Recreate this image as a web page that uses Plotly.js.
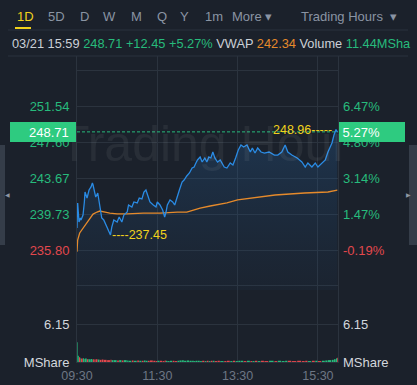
<!DOCTYPE html>
<html>
<head>
<meta charset="utf-8">
<script src="https://cdn.plot.ly/plotly-3.0.1.min.js"></script>
<style>html,body{margin:0;padding:0;background:#1b212b;overflow:hidden}#chart{width:417px;height:385px}</style>
</head>
<body>
<div id="chart"></div>
<script>
// ---------- DATA ----------
const minutes = [0,1,3,5,6,9,11,12,15,17,
  18,21,23,24,26,28,31,34,37,40,
  45,50,52,55,60,63,67,70,75,77,
  82,85,90,93,97,100,103,106,109,114,
  118,120,124,128,131,133,135,139,143,146,
  150,153,157,160,164,168,172,175,177,180,
  184,187,191,194,197,200,203,206,210,214,
  220,224,229,233,237,241,245,249,254,259,
  262,266,270,275,280,287,295,300,306,311,
  315,321,329,336,341,345,351,356,360,366,
  371,375,381,384,387,389];
const prices = [238.20,240.94,238.86,239.30,239.08,239.62,241.05,242.14,241.48,242.25,
  242.36,242.70,243.12,242.90,242.36,241.59,242.03,240.50,239.30,239.08,
  238.31,237.45,238.31,239.08,238.86,239.41,238.86,239.62,239.95,240.72,
  240.50,241.05,240.94,241.48,241.38,242.14,242.36,241.81,241.05,240.72,
  240.50,241.05,240.72,240.17,239.41,239.95,240.72,241.27,241.05,240.72,
  241.81,242.36,243.23,243.45,243.89,244.22,244.76,244.87,245.20,245.64,
  245.97,245.42,245.86,245.42,245.97,245.86,246.51,245.86,245.42,245.64,
  244.87,244.76,245.31,245.09,245.86,246.73,247.28,247.06,247.28,246.51,
  246.95,246.40,246.95,246.51,246.40,246.51,246.18,246.18,246.51,247.28,
  246.51,246.18,245.86,245.42,244.87,245.31,244.87,245.31,244.87,245.31,
  245.64,246.51,247.50,248.37,248.96,248.71];
const volumes = [3.2,1.0,0.75,0.6,0.55,0.6,0.5,0.55,0.45,0.5,
  0.45,0.5,0.4,0.45,0.4,0.45,0.4,0.35,0.4,0.35,
  0.3,0.35,0.3,0.3,0.25,0.3,0.25,0.3,0.25,0.2,
  0.25,0.2,0.25,0.2,0.2,0.25,0.2,0.2,0.25,0.2,
  0.15,0.2,0.2,0.15,0.25,0.2,0.15,0.2,0.2,0.15,
  0.2,0.25,0.3,0.2,0.25,0.2,0.2,0.15,0.2,0.2,
  0.15,0.2,0.15,0.2,0.15,0.2,0.2,0.15,0.2,0.15,
  0.15,0.2,0.15,0.2,0.15,0.2,0.2,0.15,0.2,0.15,
  0.15,0.2,0.15,0.2,0.15,0.2,0.15,0.2,0.15,0.2,
  0.2,0.15,0.2,0.15,0.2,0.15,0.2,0.2,0.15,0.2,
  0.25,0.3,0.35,0.45,0.6,0.7];
const vwapMinutes = [0,1,4,9,15,19,24,30,34,42,49,60,75,99,124,150,164,174,184,199,224,240,270,296,340,375,389];
const vwapValues = [235.60,236.89,237.66,238.20,238.75,239.30,239.73,239.95,240.06,239.95,239.84,239.75,239.75,239.84,239.84,239.95,239.95,240.17,240.39,240.61,240.94,241.27,241.59,241.81,242.03,242.14,242.34];

const priceTicks = [255.47,251.54,247.60,243.67,239.73,235.80,231.87];
const priceTickLabels = ["","251.54","247.60","243.67","239.73","235.80",""];
const pctTickLabels = ["","6.47%","4.80%","3.14%","1.47%","-0.19%",""];
const volTicks = [0,6.15];
const volTickLabels = ["MShare","6.15"];
const timeTicks = [0,120,240,360];
const timeLabels = ["09:30","11:30","13:30","15:30"];
const sessionMinutes = 390;
const prevClose = 236.26;
const headerDate = "03/21 15:59";
const lastPrice = 248.71, change = "+12.45", changePct = "+5.27%", vwapLast = "242.34", volumeText = "11.44MSha";
const tabs = ["1D","5D","D","W","M","Q","Y","1m","More ▾","Trading Hours  ▾"];
const watermark = "Trading Hour";

// ---------- STYLE ----------
const BG = "#1b212b", GRID = "#2b333e", GREEN = "#27bb7c", RED = "#e2484d", BADGE = "#2ecb80";
const YELLOW = "#f1d21c", ORANGE = "#e58a2b", BLUE = "#2a8be4";
const FONT = "Liberation Sans, Arial, sans-serif";
const L = 77, R = 338, T = 56, B = 362;
const px = X => (X - L) / (R - L);
const py = Y => (B - Y) / (B - T);
const priceBottomPx = 290;
const priceDomainLow = py(priceBottomPx);
const pPerPx = (251.54 - 235.80) / (250 - 106);
const priceRange = [251.54 - (priceBottomPx - 106) * pPerPx, 251.54 + (106 - T) * pPerPx];
const volRange = [0, 6.15 * (B - priceBottomPx) / (B - 324)];

const colorTick = (lbl, v) => lbl === "" ? "" :
  `<span style="color:${v >= prevClose ? GREEN : RED}">${lbl}</span>`;

const maxP = Math.max(...prices), minP = Math.min(...prices);
const maxI = prices.indexOf(maxP), minI = prices.indexOf(minP);
const volColors = prices.map((p, i) => i === 0 ? GREEN : (p >= prices[i - 1] ? GREEN : RED));
const volWidths = minutes.map((m, i) => i < minutes.length - 1 ? (minutes[i + 1] - m) * 0.85 : 1);

const traces = [
  {x: minutes, y: prices, type: "scatter", mode: "lines", line: {color: "rgba(0,0,0,0)", width: 0},
   fill: "tozeroy",
   fillgradient: {type: "vertical", start: priceRange[0], stop: maxP,
     colorscale: [[0, "rgba(30,80,130,0.06)"], [1, "rgba(40,110,180,0.26)"]]},
   xaxis: "x", yaxis: "y", hoverinfo: "skip"},
  {x: [0, sessionMinutes], y: [lastPrice, lastPrice], type: "scatter", mode: "lines",
   line: {color: GREEN, width: 1, dash: "3px,2px"}, xaxis: "x", yaxis: "y", hoverinfo: "skip"},
  {x: vwapMinutes, y: vwapValues, type: "scatter", mode: "lines", line: {color: ORANGE, width: 1.3},
   xaxis: "x", yaxis: "y", hoverinfo: "skip"},
  {x: minutes, y: prices, type: "scatter", mode: "lines", line: {color: BLUE, width: 1.3},
   xaxis: "x", yaxis: "y", hoverinfo: "skip"},
  {x: [0], y: [priceRange[0]], type: "scatter", mode: "markers", marker: {opacity: 0},
   xaxis: "x", yaxis: "y2", hoverinfo: "skip"},
  {x: minutes, y: volumes, type: "bar", marker: {color: volColors, line: {width: 0}}, width: volWidths,
   offset: 0, xaxis: "x2", yaxis: "y3", hoverinfo: "skip"},
  {x: [0], y: [0], type: "scatter", mode: "markers", marker: {opacity: 0},
   xaxis: "x2", yaxis: "y4", hoverinfo: "skip"}
];

const tabX = [15,46,78,101,129,155,178,203,230,299];
const annotations = [];
annotations.push({
  xref: "paper", yref: "paper", x: px(204), y: py(144), xanchor: "center", yanchor: "middle", showarrow: false,
  text: watermark, font: {family: FONT, size: 50, color: "rgba(255,255,255,0.06)"}
});
tabs.forEach((t, i) => annotations.push({
  xref: "paper", yref: "paper", x: px(tabX[i]), y: py(16), xanchor: "left", yanchor: "middle",
  text: t, showarrow: false, font: {family: FONT, size: 13, color: i === 0 ? YELLOW : "#8a94a3"}
}));
annotations.push({
  xref: "paper", yref: "paper", x: px(10), y: py(44), xanchor: "left", yanchor: "middle", showarrow: false,
  font: {family: FONT, size: 12.8, color: "#cbd0d7"},
  text: `${headerDate} <span style="color:${GREEN}">${lastPrice.toFixed(2)}</span> <span style="color:${GREEN}">${change}</span> <span style="color:${GREEN}">${changePct}</span> VWAP <span style="color:${ORANGE}">${vwapLast}</span> Volume <span style="color:${GREEN}">${volumeText}</span>`
});
annotations.push({
  xref: "x", yref: "y", x: minutes[maxI], y: maxP, xanchor: "right", yanchor: "middle", xshift: -2,
  showarrow: false, text: maxP.toFixed(2) + "-----", font: {family: FONT, size: 12.5, color: YELLOW}
});
annotations.push({
  xref: "x", yref: "y", x: minutes[minI], y: minP, xanchor: "left", yanchor: "middle", xshift: 0,
  showarrow: false, text: "----" + minP.toFixed(2), font: {family: FONT, size: 12.5, color: YELLOW}
});
annotations.push({
  xref: "paper", yref: "y", x: px(76), y: lastPrice, xanchor: "right", yanchor: "middle", showarrow: false,
  text: lastPrice.toFixed(2) + "\u00a0\u00a0", width: 66, height: 20, align: "right", borderpad: 0, borderwidth: 0,
  bgcolor: BADGE, font: {family: FONT, size: 13, color: "#ffffff"}
});
annotations.push({
  xref: "paper", yref: "y", x: px(339), y: lastPrice, xanchor: "left", yanchor: "middle", showarrow: false,
  text: "\u00a0" + changePct.replace("+", ""), width: 66, height: 20, align: "left", borderpad: 0, borderwidth: 0,
  bgcolor: BADGE, font: {family: FONT, size: 13, color: "#ffffff"}
});
annotations.push({xref: "paper", yref: "paper", x: px(2.5), y: py(195), showarrow: false, text: "◀",
  font: {size: 6, color: "#8d96a3"}});
annotations.push({xref: "paper", yref: "paper", x: px(413), y: py(195), showarrow: false, text: "▶",
  font: {size: 6, color: "#8d96a3"}});

const shapes = [
  {type: "line", xref: "paper", yref: "paper", x0: px(8), x1: px(408), y0: py(30), y1: py(30), line: {color: GRID, width: 1}},
  {type: "line", xref: "paper", yref: "paper", x0: px(8), x1: px(408), y0: py(56), y1: py(56), line: {color: GRID, width: 1}},
  {type: "rect", xref: "paper", yref: "paper", x0: px(15), x1: px(31), y0: py(29), y1: py(27), fillcolor: YELLOW, line: {width: 0}},
  {type: "rect", xref: "paper", yref: "paper", x0: px(0), x1: px(5), y0: py(245), y1: py(145), fillcolor: "#353d49", line: {width: 0}},
  {type: "rect", xref: "paper", yref: "paper", x0: px(409), x1: px(417), y0: py(245), y1: py(145), fillcolor: "#353d49", line: {width: 0}}
];

const axFont = {family: FONT, size: 13};
const layout = {
  width: 417, height: 385, margin: {l: L, r: 417 - R, t: T, b: 385 - B},
  paper_bgcolor: BG, plot_bgcolor: BG, showlegend: false, hovermode: false,
  xaxis: {domain: [0, 1], anchor: "y", range: [0, sessionMinutes], tickvals: timeTicks, showticklabels: false,
    showgrid: true, gridcolor: GRID, zeroline: false, showline: false, ticks: ""},
  xaxis2: {domain: [0, 1], anchor: "y3", matches: "x", range: [0, sessionMinutes], tickvals: timeTicks, ticktext: timeLabels,
    showgrid: true, gridcolor: GRID, zeroline: false, showline: true, linecolor: GRID, ticks: "",
    tickfont: {family: FONT, size: 12.5, color: "#6d7684"}, ticklabelstandoff: 2},
  yaxis: {domain: [priceDomainLow, 1], range: priceRange, tickvals: priceTicks,
    ticktext: priceTickLabels.map((l, i) => colorTick(l, priceTicks[i])), showgrid: true, gridcolor: GRID,
    zeroline: false, showline: true, mirror: true, linecolor: GRID, ticks: "", tickfont: axFont, ticklabelstandoff: 4},
  yaxis2: {overlaying: "y", side: "right", anchor: "x", range: priceRange, tickvals: priceTicks,
    ticktext: pctTickLabels.map((l, i) => colorTick(l, priceTicks[i])), showgrid: false, zeroline: false,
    ticks: "", tickfont: axFont, ticklabelstandoff: 4},
  yaxis3: {domain: [0, priceDomainLow], anchor: "x2", range: volRange, tickvals: volTicks, ticktext: volTickLabels,
    showgrid: true, gridcolor: GRID, zeroline: false, showline: true, mirror: true, linecolor: GRID, ticks: "",
    tickfont: {family: FONT, size: 13, color: "#d3d7dd"}, ticklabelstandoff: 4},
  yaxis4: {overlaying: "y3", side: "right", anchor: "x2", range: volRange, tickvals: volTicks, ticktext: volTickLabels,
    showgrid: false, zeroline: false, ticks: "", tickfont: {family: FONT, size: 13, color: "#d3d7dd"}, ticklabelstandoff: 4},
  annotations: annotations, shapes: shapes
};

Plotly.newPlot("chart", traces, layout, {displayModeBar: false, staticPlot: true});
</script>
</body>
</html>
